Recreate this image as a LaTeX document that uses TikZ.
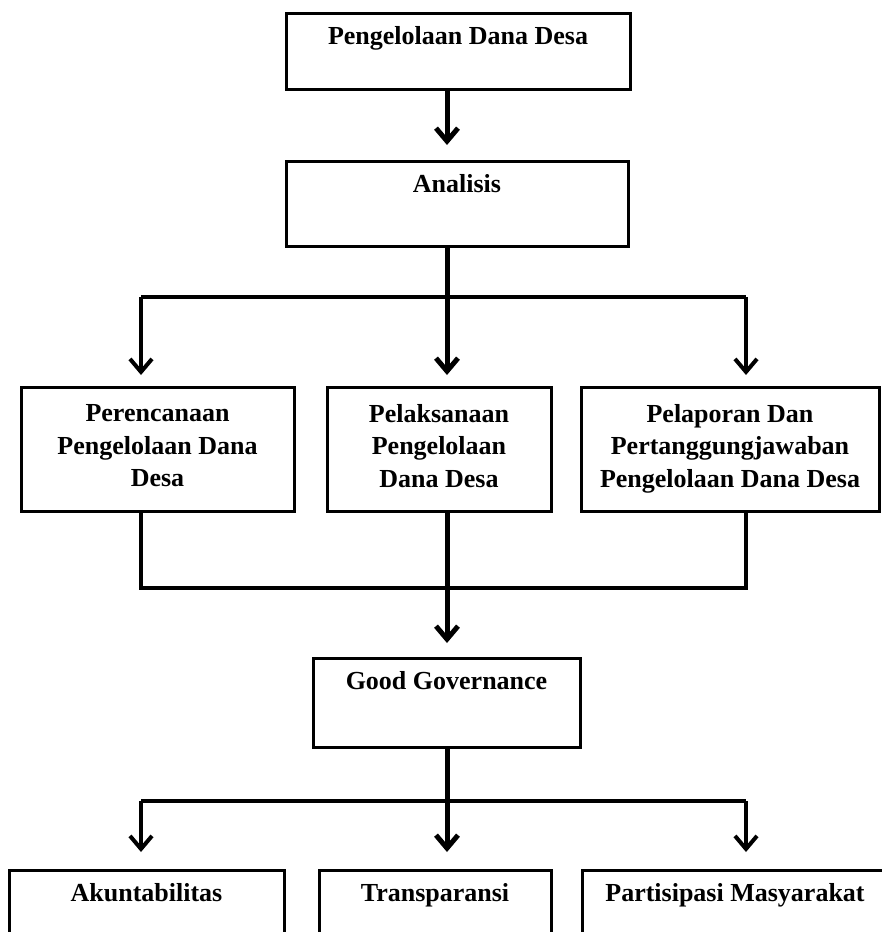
\documentclass[tikz,border=0pt]{standalone}
\usepackage{fontspec}
\setmainfont{Liberation Serif}
\usetikzlibrary{arrows.meta}
\usetikzlibrary{positioning}

\tikzset{
  box/.style={draw, line width=3pt, align=center, inner sep=0pt, anchor=north,
    font=\fontsize{26}{32.5}\selectfont\bfseries},
  head/.style={text height=18pt, text depth=#1},
  link/.style={line width=4pt},
  trunk/.style={line width=5pt},
  arr/.style={line width=4pt, -{Straight Barb[length=13pt,width=22pt]}},
}

\begin{document}
\begin{tikzpicture}[x=1pt,y=-1pt]
    \clip (0,0) rectangle (882,932);
    % branch columns and junctions
    \coordinate (cl) at (141,0);
    \coordinate (cm) at (447,0);
    \coordinate (cr) at (746,0);
    \coordinate (j1) at (447,297);
    \coordinate (j2) at (447,588);
    \coordinate (j3) at (447,801);

    \node[box, head=32pt, minimum width=344pt, minimum height=76pt] (pdd) at (458,12) {Pengelolaan Dana Desa};
    \node[box, head=41pt, minimum width=342pt, minimum height=85pt] (ana) at (457,160) {Analisis};

    \node[box, text depth=8pt, minimum width=273pt, minimum height=124pt] (per) at (157.5,386) {Perencanaan\\Pengelolaan Dana\\Desa};
    \node[box, text depth=8pt, minimum width=224pt, minimum height=124pt] (pel) at (439,386) {Pelaksanaan\\Pengelolaan\\Dana Desa};
    \node[box, text depth=8pt, minimum width=298pt, minimum height=124pt] (lap) at (730,386) {Pelaporan Dan\\Pertanggungjawaban\\Pengelolaan Dana Desa};

    \node[box, head=45pt, minimum width=267pt, minimum height=89pt] (gg) at (446.5,657) {Good Governance};

    \node[box, head=45pt, minimum width=275pt, minimum height=89pt] (akun) at (146.5,869) {Akuntabilitas};
    \node[box, head=45pt, minimum width=232pt, minimum height=89pt] (trans) at (435,869) {Transparansi};
    \node[box, head=45pt, minimum width=306pt, minimum height=89pt] (part) at (735,869) {Partisipasi Masyarakat};

    \draw[arr, trunk, shorten >=15pt] (pdd.south -| cm) -- (ana.north -| cm);

    \draw[trunk] (ana.south -| cm) -- (j1);
    \draw[link] (cl |- j1) -- (cr |- j1);
    \foreach \c/\b in {cl/per, cr/lap}
      \draw[arr, shorten >=11pt] (\c |- j1) -- (\b.north -| \c);
    \draw[arr, trunk, shorten >=11pt] (j1) -- (pel.north -| cm);

    \draw[link] (per.south -| cl) -- (cl |- j2) -- (cr |- j2) -- (lap.south -| cr);
    \draw[arr, trunk, shorten >=14pt] (pel.south -| cm) -- (gg.north -| cm);

    \draw[trunk] (gg.south -| cm) -- (j3);
    \draw[link] (cl |- j3) -- (cr |- j3);
    \foreach \c/\b in {cl/akun, cr/part}
      \draw[arr, shorten >=17pt] (\c |- j3) -- (\b.north -| \c);
    \draw[arr, trunk, shorten >=17pt] (j3) -- (trans.north -| cm);
\end{tikzpicture}
\end{document}
